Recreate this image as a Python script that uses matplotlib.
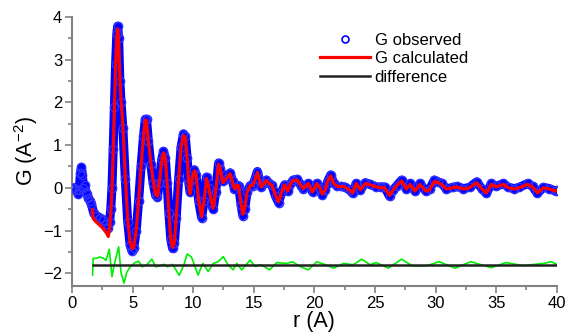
import matplotlib
matplotlib.use("Agg")
import matplotlib.pyplot as plt
from matplotlib.ticker import MultipleLocator

plt.rcParams['font.family'] = ['Liberation Sans', 'DejaVu Sans']

# observed G(r) keypoints
r_obs = [0.0, 0.2, 0.35, 0.5, 0.6, 0.7, 0.78, 0.86, 0.95, 1.05, 1.15, 1.25, 1.35, 1.5, 1.6,
         1.8, 2.0, 2.3, 2.6, 2.8, 2.95, 3.1, 3.2, 3.3, 3.4, 3.5, 3.6, 3.7, 3.77, 3.85, 3.95,
         4.05, 4.2, 4.4, 4.6, 4.8, 4.95, 5.1, 5.3, 5.5, 5.7, 5.9, 6.05, 6.15, 6.3, 6.5, 6.7,
         6.9, 7.05, 7.2, 7.4, 7.55, 7.7, 7.85, 8.0, 8.15, 8.3, 8.45, 8.6, 8.8, 9.0, 9.2, 9.35,
         9.5, 9.65, 9.75, 9.9, 10.1, 10.25, 10.45, 10.7, 10.9, 11.1, 11.3, 11.5, 11.65, 11.85,
         12.1, 12.25, 12.45, 12.7, 13.05, 13.25, 13.4, 13.6, 13.75, 13.95, 14.1, 14.25, 14.45,
         14.7, 14.9, 15.1, 15.3, 15.45, 15.6, 15.85, 16.05, 16.25, 16.5, 16.8, 17.05, 17.3,
         17.55, 17.8, 18.05, 18.25, 18.6, 18.9, 19.1, 19.5, 19.85, 20.2, 20.45, 20.65, 20.9,
         21.1, 21.35, 21.6, 21.9, 22.2, 22.5, 22.9, 23.15, 23.45, 23.8, 24.2, 24.6, 25.1, 25.5,
         25.8, 26.2, 26.5, 26.8, 27.2, 27.6, 27.9, 28.3, 28.7, 29.2, 29.5, 29.9, 30.2, 30.5,
         30.9, 31.4, 31.8, 32.3, 32.8, 33.4, 33.8, 34.2, 34.6, 35.0, 35.6, 36.0, 36.5, 36.9,
         37.6, 38.0, 38.4, 38.9, 39.4, 39.9, 40.0]
g_obs = [0.0, 0.0, -0.05, -0.15, -0.05, 0.35, 0.48, 0.3, 0.0, 0.07, -0.1, -0.15, -0.25, -0.3, -0.38,
         -0.6, -0.65, -0.7, -0.75, -0.85, -0.95, -0.8, -0.5, 0.0, 0.9, 1.9, 2.9, 3.6, 3.78, 3.5, 2.5,
         2.0, 1.4, 0.2, -0.8, -1.35, -1.47, -1.4, -1.0, -0.3, 0.5, 1.2, 1.6, 1.6, 1.1, 0.55, 0.1,
         -0.18, -0.22, 0.1, 0.65, 0.85, 0.7, 0.1, -0.6, -1.2, -1.42, -1.3, -0.7, 0.2, 0.95, 1.26, 1.2,
         0.7, 0.1, -0.1, 0.2, 0.42, 0.3, -0.3, -0.7, -0.3, 0.25, 0.0, -0.35, -0.5, -0.1,
         0.58, 0.45, 0.15, 0.2, 0.35, 0.15, -0.02, 0.05, 0.05, -0.4, -0.65, -0.5, -0.1,
         0.05, 0.05, 0.2, 0.38, 0.2, 0.02, 0.1, 0.18, 0.1, 0.06, -0.2, -0.35, -0.1,
         0.07, -0.08, 0.1, 0.18, 0.2, 0.05, -0.02, 0.1, -0.1, 0.1, 0.0, -0.17, -0.05,
         0.15, 0.3, 0.1, 0.03, 0.03, 0.02, -0.05, -0.13, 0.1, -0.05, 0.12, 0.08, 0.02, 0.02,
         0.02, -0.2, -0.05, 0.05, 0.18, -0.03, 0.1, -0.08, 0.1, -0.08, -0.04, 0.18, 0.14, 0.1,
         -0.03, 0.01, 0.03, -0.02, 0.01, 0.14, -0.02, -0.13, 0.1, 0.03, 0.1, 0.01, -0.02, 0.01,
         0.1, 0.03, -0.13, 0.01, -0.02, -0.08, -0.06]

# calculated G(r) keypoints
r_calc = [1.7, 1.75, 2.0, 2.5, 2.85, 3.0, 3.1, 3.2, 3.3, 3.4, 3.5, 3.6, 3.7, 3.77, 3.85, 3.95,
          4.05, 4.2, 4.4, 4.6, 4.8, 5.0, 5.1, 5.3, 5.5, 5.7, 5.9, 6.05, 6.15, 6.3, 6.5, 6.7,
          6.9, 7.05, 7.2, 7.4, 7.55, 7.7, 7.85, 8.0, 8.15, 8.3, 8.45, 8.6, 8.8, 9.0, 9.2, 9.35,
          9.5, 9.65, 9.75, 9.9, 10.1, 10.25, 10.45, 10.7, 10.9, 11.1, 11.3, 11.5, 11.65, 11.85,
          12.1, 12.25, 12.45, 12.7, 13.05, 13.25, 13.4, 13.6, 13.75, 13.95, 14.1, 14.25, 14.45,
          14.7, 14.9, 15.1, 15.3, 15.45, 15.6, 15.85, 16.05, 16.25, 16.5, 16.8, 17.05, 17.3,
          17.55, 17.8, 18.05, 18.25, 18.6, 18.9, 19.1, 19.5, 19.85, 20.2, 20.45, 20.65, 20.9,
          21.1, 21.35, 21.6, 21.9, 22.2, 22.5, 22.9, 23.15, 23.45, 23.8, 24.2, 24.6, 25.1, 25.5,
          25.8, 26.2, 26.5, 26.8, 27.2, 27.6, 27.9, 28.3, 28.7, 29.2, 29.5, 29.9, 30.2, 30.5,
          30.9, 31.4, 31.8, 32.3, 32.8, 33.4, 33.8, 34.2, 34.6, 35.0, 35.6, 36.0, 36.5, 36.9,
          37.6, 38.0, 38.4, 38.9, 39.4, 39.9, 40.0]
g_calc = [-0.52, -0.72, -0.8, -0.93, -1.06, -1.14, -0.95, -0.6, -0.05, 0.85, 1.85, 2.85, 3.55, 3.72, 3.45, 2.6,
          2.05, 1.45, 0.25, -0.75, -1.3, -1.42, -1.38, -1.0, -0.3, 0.5, 1.2, 1.58, 1.58, 1.1, 0.6, 0.15,
          -0.15, -0.2, 0.1, 0.62, 0.82, 0.7, 0.1, -0.6, -1.2, -1.4, -1.28, -0.7, 0.2, 0.95, 1.22, 1.18,
          0.7, 0.05, -0.14, 0.2, 0.4, 0.28, -0.3, -0.68, -0.3, 0.22, 0.0, -0.33, -0.48, -0.1,
          0.55, 0.42, 0.12, 0.2, 0.33, 0.13, -0.02, 0.05, 0.05, -0.38, -0.62, -0.48, -0.1,
          0.05, 0.05, 0.18, 0.36, 0.2, 0.02, 0.1, 0.17, 0.1, 0.06, -0.18, -0.33, -0.1,
          0.07, -0.08, 0.1, 0.17, 0.18, 0.05, -0.02, 0.1, -0.1, 0.1, 0.0, -0.15, -0.05,
          0.15, 0.28, 0.1, 0.03, 0.03, 0.02, -0.05, -0.12, 0.1, -0.05, 0.1, 0.07, 0.02, 0.0,
          0.0, -0.18, -0.05, 0.05, 0.16, -0.03, 0.08, -0.08, 0.08, -0.08, -0.05, 0.15, 0.12, 0.08,
          -0.03, 0.0, 0.02, -0.03, 0.0, 0.12, -0.02, -0.12, 0.08, 0.02, 0.08, 0.0, -0.03, 0.0,
          0.08, 0.02, -0.12, 0.0, -0.03, -0.08, -0.06]

# difference curve (plotted with offset)
r_diff = [1.7, 1.75, 2.0, 2.3, 2.6, 2.8, 3.08, 3.3, 3.5, 3.85, 4.05, 4.3, 4.5, 4.8, 5.2, 5.5,
          5.8, 6.2, 6.6, 6.9, 7.2, 7.6, 7.9, 8.3, 8.85, 9.25, 9.5, 9.86, 10.4, 10.8, 11.24,
          11.65, 12.06, 12.48, 12.9, 13.3, 13.6, 14.0, 14.7, 15.1, 15.6, 16.3, 16.9, 17.7,
          18.2, 18.8, 19.5, 20.2, 20.9, 21.6, 22.4, 23.2, 23.9, 24.6, 25.1, 26.1, 27.2, 28.1,
          29.2, 30.3, 31.6, 32.9, 34.6, 35.8, 37.2, 38.9, 39.55, 40.0]
g_diff = [-2.04, -1.65, -1.65, -1.62, -1.65, -1.7, -1.44, -2.08, -1.78, -1.38, -1.99, -2.23, -1.99, -1.85, -1.75, -1.72,
          -1.85, -1.79, -1.67, -1.85, -1.83, -1.79, -1.85, -1.79, -2.05, -1.79, -1.55, -1.62, -2.04, -1.77, -1.96,
          -1.77, -1.73, -1.61, -1.81, -1.92, -1.77, -1.92, -1.69, -1.84, -1.8, -1.92, -1.75, -1.77,
          -1.73, -1.84, -1.92, -1.73, -1.8, -1.88, -1.77, -1.8, -1.67, -1.8, -1.75, -1.88, -1.67, -1.83,
          -1.83, -1.73, -1.88, -1.73, -1.87, -1.75, -1.82, -1.77, -1.73, -1.79]

baseline = -1.8

fig = plt.figure(figsize=(5.69, 3.35), dpi=100)
ax = fig.add_axes([0.1265, 0.146, 0.852, 0.804])

ax.plot(r_obs, g_obs, color='#0000FF', lw=6.5, solid_capstyle='round', solid_joinstyle='round', zorder=2)
ax.plot(r_obs, g_obs, 'o', mfc='none', mec='#3030FF', ms=6, mew=1, zorder=3)
ax.plot([], [], 'o', mfc='none', mec='#0000FF', ms=5, mew=1.2, label='G observed')
ax.plot(r_calc, g_calc, color='#FF0000', lw=2.3, label='G calculated', zorder=4)
ax.plot(r_diff, g_diff, color='#00EE00', lw=1.2, zorder=2)
ax.plot([r_diff[0], r_diff[-1]], [baseline, baseline], color='#222222', lw=1.8, label='difference', zorder=3)

ax.set_xlim(0, 40)
ax.set_ylim(-2.3, 4)
ax.xaxis.set_major_locator(MultipleLocator(5))
ax.xaxis.set_minor_locator(MultipleLocator(2.5))
ax.yaxis.set_major_locator(MultipleLocator(1))
ax.yaxis.set_minor_locator(MultipleLocator(0.5))

for s in ['top', 'right']:
    ax.spines[s].set_visible(False)
for s in ['left', 'bottom']:
    ax.spines[s].set_color('#808080')
    ax.spines[s].set_linewidth(1.5)
ax.tick_params(which='major', direction='out', length=5, width=1.2, color='#808080', labelsize=12, pad=2)
ax.tick_params(which='minor', direction='out', length=3, width=1.2, color='#808080')

ax.set_xlabel('r (A)', fontsize=15.5, labelpad=0)
ax.set_ylabel('G (A$^{\\mathregular{-2}}$)', fontsize=15.5, labelpad=2)

leg = ax.legend(loc='upper left', bbox_to_anchor=(0.497, 0.965), frameon=False, fontsize=12,
                handlelength=3.0, handletextpad=0.3, labelspacing=0.2, borderaxespad=0)

fig.savefig('out.png', dpi=100)
